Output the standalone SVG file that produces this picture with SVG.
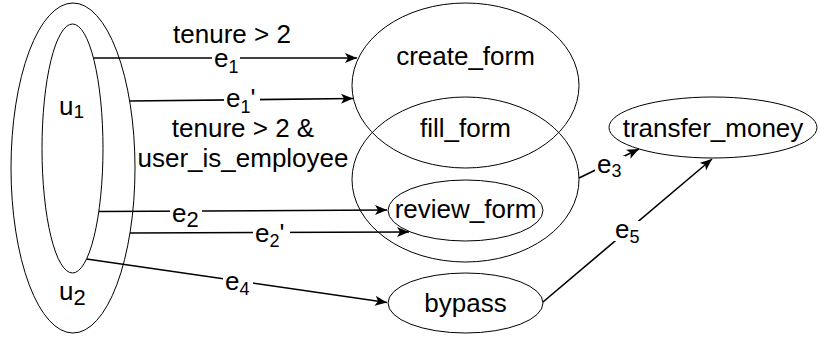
<svg xmlns="http://www.w3.org/2000/svg" width="820" height="340" viewBox="0 0 820 340">
<defs>
<style>
.node{fill:none;stroke:#000;stroke-width:1}
.edge{fill:none;stroke:#000;stroke-width:1.6}
text{font-family:"Liberation Sans",Arial,Helvetica,sans-serif;font-size:26px;fill:#000}
.c{text-anchor:middle}
.bg{fill:#fff;stroke:none}
</style>
<marker id="arr" markerUnits="userSpaceOnUse" markerWidth="13" markerHeight="11" refX="12" refY="5" orient="auto">
<path d="M0,0 L12,5 L0,10 L3,5 Z" fill="#000"/>
</marker>
</defs>
<rect width="820" height="340" fill="#fff"/>

<g id="u2">
<ellipse class="node" cx="73" cy="168" rx="62" ry="165"/>
<text x="59" y="300">u<tspan dy="5" font-size="22">2</tspan></text>
</g>
<g id="u1">
<ellipse class="node" cx="72.5" cy="148.5" rx="30.5" ry="124.5"/>
<text x="59" y="115">u<tspan dy="3" font-size="19">1</tspan></text>
</g>
<g id="create_form">
<ellipse class="node" cx="465.5" cy="85.5" rx="113.5" ry="82.5"/>
<text class="c" x="465.5" y="65">create_form</text>
</g>
<g id="fill_form">
<ellipse class="node" cx="465.5" cy="179.5" rx="113.5" ry="82.5"/>
<text class="c" x="465.5" y="137">fill_form</text>
</g>
<g id="review_form">
<ellipse class="node" cx="465.5" cy="210.5" rx="77.5" ry="30.5"/>
<text class="c" x="465.5" y="218">review_form</text>
</g>
<g id="bypass">
<ellipse class="node" cx="465.5" cy="303" rx="77.5" ry="30"/>
<text class="c" x="465.5" y="312">bypass</text>
</g>
<g id="transfer_money">
<ellipse class="node" cx="713" cy="127.5" rx="104" ry="30.5"/>
<text class="c" x="713" y="137">transfer_money</text>
</g>

<g id="connectors">
<line class="edge" x1="94" y1="58" x2="357" y2="58" marker-end="url(#arr)"/>
<line class="edge" x1="130" y1="101" x2="353" y2="98.5" marker-end="url(#arr)"/>
<line class="edge" x1="99" y1="211.5" x2="387" y2="210" marker-end="url(#arr)"/>
<line class="edge" x1="130" y1="233" x2="409" y2="232" marker-end="url(#arr)"/>
<line class="edge" x1="86.5" y1="259" x2="387" y2="302.5" marker-end="url(#arr)"/>
<line class="edge" x1="579" y1="178" x2="639" y2="149" marker-end="url(#arr)"/>
<line class="edge" x1="543" y1="302" x2="712" y2="159" marker-end="url(#arr)"/>

<rect class="bg" x="212" y="50" width="28" height="22"/>
<text x="214" y="67">e<tspan dy="6" font-size="18">1</tspan></text>

<rect class="bg" x="224" y="92" width="36" height="20"/>
<text x="226" y="107">e<tspan dy="6" font-size="18">1</tspan><tspan dy="-6">'</tspan></text>

<rect class="bg" x="170" y="205" width="32" height="18"/>
<text x="172" y="222">e<tspan dy="5" font-size="22">2</tspan></text>

<rect class="bg" x="253" y="225" width="37" height="18"/>
<text x="255" y="242">e<tspan dy="5" font-size="18">2</tspan><tspan dy="-5">'</tspan></text>

<rect class="bg" x="223" y="273" width="30" height="20"/>
<text x="225" y="290">e<tspan dy="5" font-size="18">4</tspan></text>

<rect class="bg" x="595" y="156" width="30" height="20"/>
<text x="597" y="173">e<tspan dy="4" font-size="18">3</tspan></text>

<rect class="bg" x="613" y="221" width="30" height="20"/>
<text x="615" y="238">e<tspan dy="5" font-size="18">5</tspan></text>

<text class="c" x="232" y="43">tenure &gt; 2</text>
<text class="c" x="243" y="137">tenure &gt; 2 &amp;</text>
<text class="c" x="243" y="167">user_is_employee</text>
</g>
</svg>
